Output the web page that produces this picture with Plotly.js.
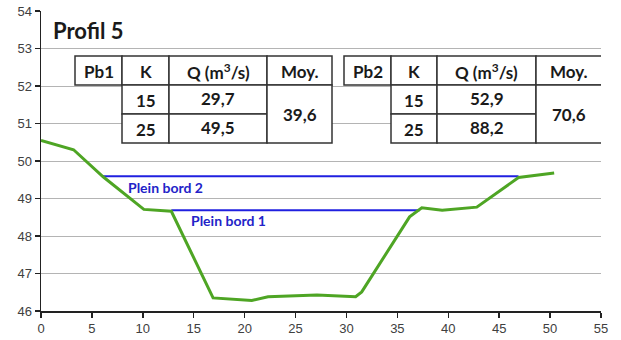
<!DOCTYPE html>
<html><head><meta charset="utf-8">
<script src="https://cdn.plot.ly/plotly-3.0.1.min.js"></script>
<style>html,body{margin:0;padding:0;background:#fff;}</style>
</head><body><div id="chart" style="width:621px;height:340px;"></div>
<script>
// Profil en travers: distance (m) and altitude (m)
const distance = [0, 3.2, 6.1, 10.1, 12.8, 16.9, 20.7, 22.3, 27.1, 30.9, 31.5, 36.2, 37.4, 39.4, 42.8, 46.9, 50.4];
const altitude = [50.55, 50.30, 49.58, 48.71, 48.66, 46.35, 46.28, 46.38, 46.43, 46.38, 46.51, 48.51, 48.75, 48.69, 48.77, 49.56, 49.68];

// Plein bord levels: [x start, x end], level
const pb1X = [12.8, 37.2];
const pb1Level = 48.69;
const pb2X = [6.0, 46.9];
const pb2Level = 49.59;
const pbLabels = ["Plein bord 1", "Plein bord 2"];

// Tables
const headers1 = ["Pb1", "K", "Q (m<sup>3</sup>/s)", "Moy."];
const headers2 = ["Pb2", "K", "Q (m<sup>3</sup>/s)", "Moy."];
const kValues = ["15", "25"];
const q1Values = ["29,7", "49,5"];
const q2Values = ["52,9", "88,2"];
const moy1 = "39,6";
const moy2 = "70,6";
const chartTitle = "Profil 5";

// pixel -> data helpers (plot area: x 41..601, y 11..311)
const X0 = 41, X1 = 601, Y0 = 11, Y1 = 311;
const px2x = p => (p - X0) / (X1 - X0) * 55;
const py2y = p => 46 + (Y1 - p) / (Y1 - Y0) * 8;

const border = '#333333';
const shapes = [];
const annotations = [];
function cell(x0, x1, y0, y1) {
  shapes.push({type:'rect', xref:'x', yref:'y', x0:px2x(x0), x1:px2x(x1), y0:py2y(y1), y1:py2y(y0),
    line:{color:border, width:1.5}, fillcolor:'#ffffff', layer:'above'});
}
const tfont = {family:'Lato, "Open Sans", sans-serif', size:17, color:'#1a1a1a'};
function txt(t, cx, cy) {
  annotations.push({text:'<b>'+t+'</b>', x:px2x(cx), y:py2y(cy), xref:'x', yref:'y', showarrow:false,
    xanchor:'center', yanchor:'middle', font:tfont});
}
function table(cols, hdr, qv, moy) {
  const r = [56, 85, 114, 143];
  for (let i = 0; i < 4; i++) cell(cols[i], cols[i+1], r[0], r[1]);
  cell(cols[1], cols[2], r[1], r[2]); cell(cols[2], cols[3], r[1], r[2]);
  cell(cols[1], cols[2], r[2], r[3]); cell(cols[2], cols[3], r[2], r[3]);
  cell(cols[3], cols[4], r[1], r[3]);
  for (let i = 0; i < 4; i++) txt(hdr[i], (cols[i]+cols[i+1])/2, 71);
  txt(kValues[0], (cols[1]+cols[2])/2, 100);
  txt(kValues[1], (cols[1]+cols[2])/2, 129);
  txt(qv[0], (cols[2]+cols[3])/2, 98);
  txt(qv[1], (cols[2]+cols[3])/2, 127);
  txt(moy, (cols[3]+cols[4])/2, 114);
}
table([75, 122, 169, 267, 332], headers1, q1Values, moy1);
table([344, 391, 437, 536, 602], headers2, q2Values, moy2);

annotations.push({text:'<b>'+chartTitle+'</b>', x:px2x(51), y:py2y(30), xref:'x', yref:'y', showarrow:false,
  xanchor:'left', yanchor:'middle', font:{family:'Lato, "Open Sans", sans-serif', size:22, color:'#1a1a1a'}});

const blueFont = {family:'Lato, "Open Sans", sans-serif', size:14, color:'#2323c8'};
annotations.push({text:'<b>'+pbLabels[1]+'</b>', x:px2x(165), y:py2y(187), xref:'x', yref:'y', showarrow:false,
  xanchor:'center', yanchor:'middle', font:blueFont});
annotations.push({text:'<b>'+pbLabels[0]+'</b>', x:px2x(228), y:py2y(220), xref:'x', yref:'y', showarrow:false,
  xanchor:'center', yanchor:'middle', font:blueFont});

const traces = [
  {x:pb2X, y:[pb2Level, pb2Level], mode:'lines', line:{color:'#2020e0', width:2}, hoverinfo:'skip'},
  {x:pb1X, y:[pb1Level, pb1Level], mode:'lines', line:{color:'#2020e0', width:2}, hoverinfo:'skip'},
  {x:distance, y:altitude, mode:'lines', line:{color:'#4ea524', width:3}}
];

const layout = {
  width:621, height:340, showlegend:false,
  margin:{l:41, r:20, t:11, b:29, pad:0},
  paper_bgcolor:'#fff', plot_bgcolor:'#fff',
  font:{family:'"Liberation Sans", Arial, sans-serif', size:13, color:'#404040'},
  xaxis:{range:[0,55], dtick:5, tick0:0, showgrid:false, zeroline:false, showline:true, linecolor:'#222', linewidth:1.5,
    ticks:'outside', ticklen:5, tickcolor:'#222', tickwidth:1.5, tickfont:{size:13, color:'#404040'}},
  yaxis:{range:[46,54], dtick:1, tick0:46, showgrid:true, gridcolor:'#b4b4b4', gridwidth:1, zeroline:false, showline:true,
    linecolor:'#222', linewidth:1.5, ticks:'outside', ticklen:5, tickcolor:'#222', tickwidth:1.5, tickfont:{size:13, color:'#404040'}},
  shapes:shapes, annotations:annotations
};
Plotly.newPlot('chart', traces, layout, {staticPlot:true, displayModeBar:false});
</script></body></html>
